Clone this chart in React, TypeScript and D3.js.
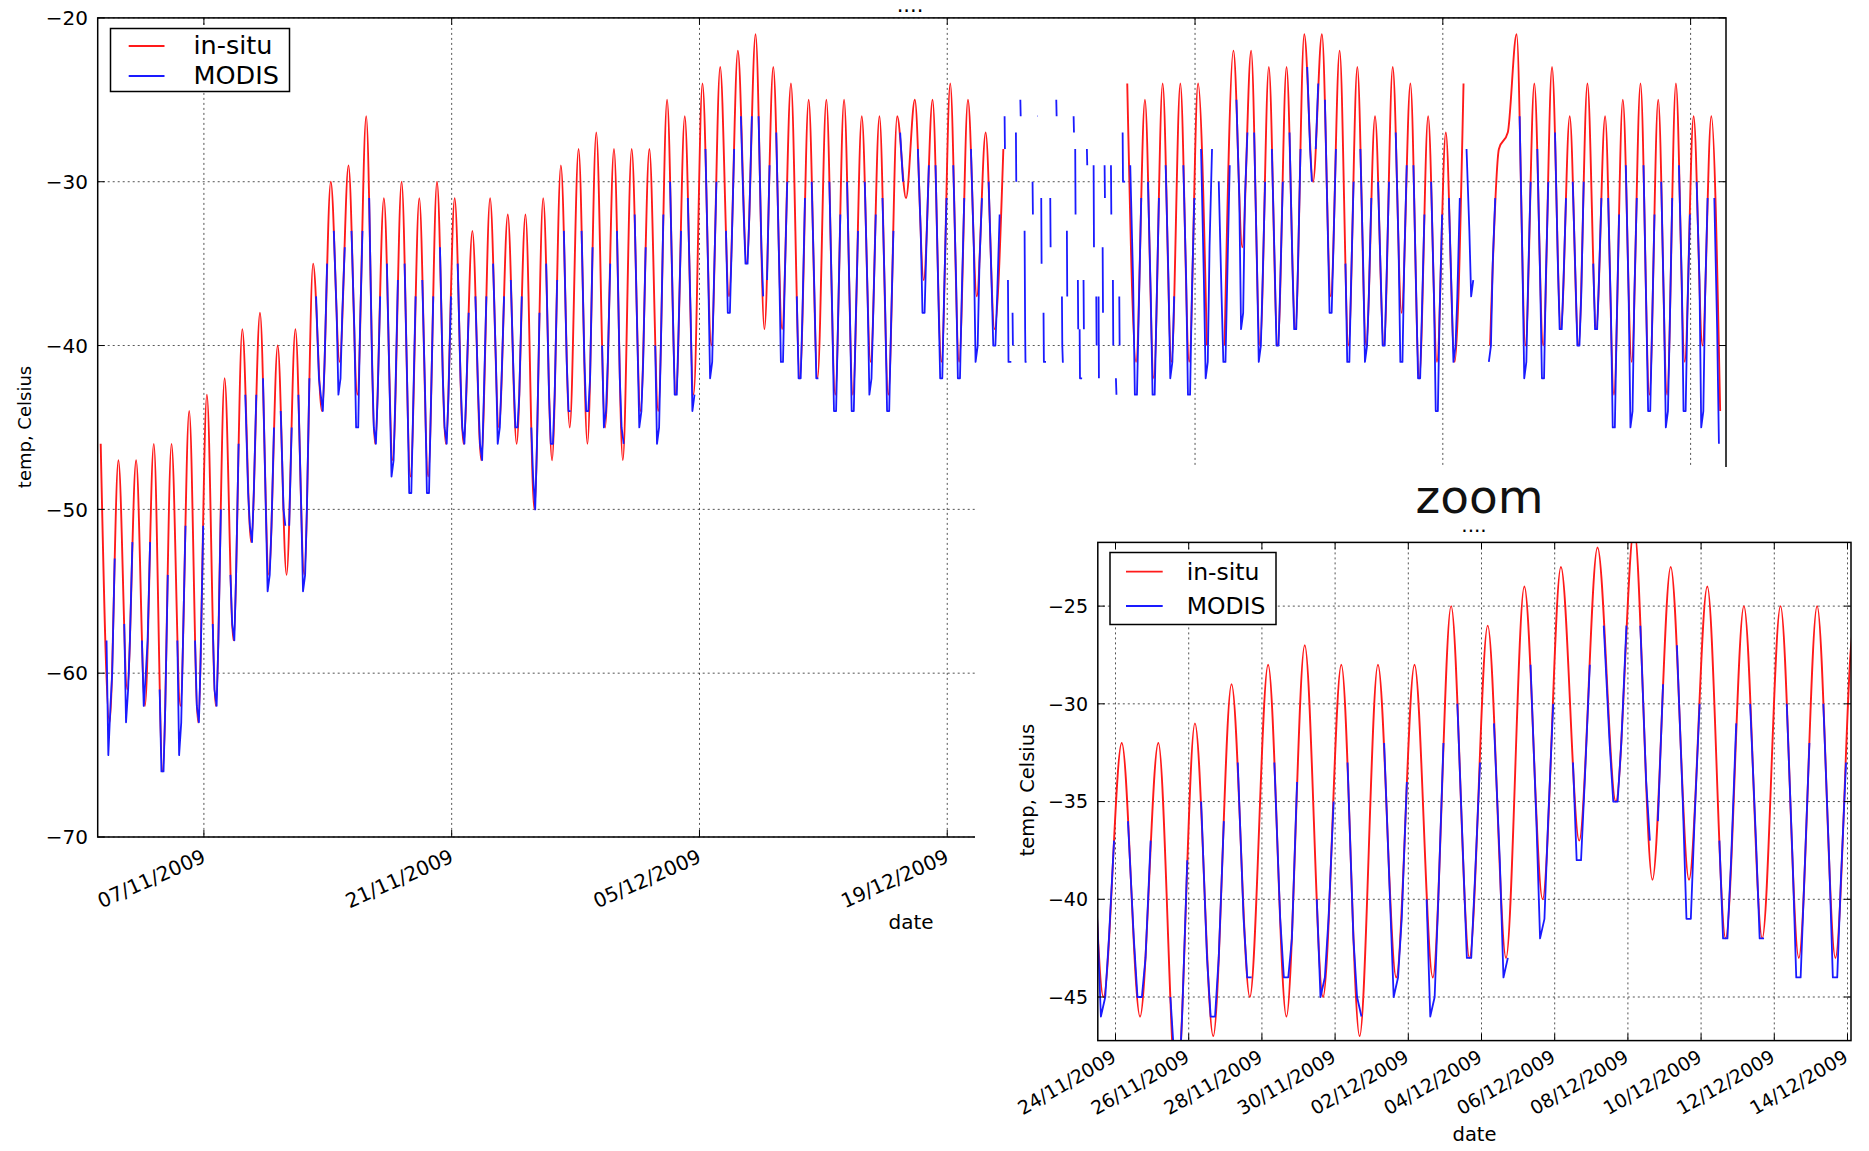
import React from "react";
import * as d3 from "d3";

type Pt = { t: number; v: number | null };

// time is counted in days from 01/11/2009 00:00 UTC
const START = Date.UTC(2009, 10, 1);
const DAY_MS = 86400000;
const at = (d: number) => new Date(START + d * DAY_MS);

// daily in-situ extremes: maximum near local noon, minimum near local midnight
const MAX_PHASE = 0.17;
const MIN_PHASE = 0.67;
const insituMax: (number | null)[] = [
  -46, -47, -47, -46, -46, -44, -43, -42, -39, -38,
  -40, -39, -35, -30, -29, -26, -31, -30, -31, -30,
  -31, -33, -31, -32, -32, -31, -29, -28, -27, -28,
  -28, -28, -25, -26, -24, -23, -22, -21, -23, -24,
  -25, -25, -25, -26, -26, -26, -25, -25, -24, -25,
  -27, -28, null, null, null, null, null, null, -24, -25,
  -24, -24, -24, null, -22, -22, -23, -23, -21, -21,
  -22, -23, -26, -23, -24, -26, -27, -24, null, -28,
  -21, -24, -23, -26, -24, -26, -25, -24, -25, -24,
  -26, -26,
];
const insituMin: (number | null)[] = [
  -63, -61, -62, -66, -62, -63, -62, -58, -52, -54,
  -54, -54, -44, -41, -43, -46, -47, -48, -48, -46,
  -46, -47, -45, -46, -50, -47, -45, -46, -45, -47,
  -44, -44, -43, -43, -40, -37, -35, -39, -39, -42,
  -42, -43, -43, -41, -43, -31, -36, -41, -41, -37,
  -39, null, null, null, null, null, null, null, -41, -42,
  -41, -41, -40, -40, -34, -40, -40, -39, -30, -37,
  -40, -40, -40, -38, -42, -41, -41, null, -40, -27,
  -40, -40, -39, -40, -39, -43, -41, -43, -43, -41,
  -40, -44,
];

// MODIS samples of each day, taken at these fractions of the day
const modisPhase = [0.34, 0.5, 0.6, 0.72, 0.82, 0.96];
const modisDaily: ((number | null)[] | null)[] = [
  [null, -58, -65, -62, -60, -53],
  [null, -57, -63, -61, -58, -52],
  [null, -58, -62, -60, -58, -52],
  [null, -61, -66, -66, -62, -54],
  [null, -58, -65, -63, -58, -51],
  [null, -58, -62, -63, -59, -51],
  [null, -57, -61, -62, -58, -50],
  [null, -54, -57, -58, -54, -46],
  [-43, -49, -51, -52, -49, -43],
  [-42, -50, -55, -54, -51, -45],
  [-44, -50, -51, null, -51, -45],
  [-43, -50, -55, -54, -50, -42],
  [-37, -42, -43, -44, -41, -35],
  [-33, -38, -43, -42, -38, -34],
  [-33, -39, -45, -45, -39, -33],
  [-31, -41, -45, -46, -43, -37],
  [-35, -43, -48, -47, -43, -36],
  [-35, -43, -49, -49, -44, -37],
  [-36, -43, -49, -49, -44, -37],
  [-34, -42, -45, -46, -43, -37],
  [-35, -42, -45, -46, -43, -38],
  [-37, -43, -46, -47, -43, -37],
  [-35, -41, -46, -45, -42, -37],
  [-36, -42, -45, -45, -43, -37],
  [null, -45, -48, -50, -46, -38],
  [-35, -43, -46, -46, -43, -36],
  [-33, -41, -44, -44, null, -34],
  [-33, -41, -44, -44, -42, -34],
  [null, -40, -45, -44, -41, -35],
  [-33, -42, -45, -46, null, -35],
  [-32, -40, -45, -44, -41, -34],
  [null, -40, -46, -45, -40, -32],
  [-30, -38, -43, -43, -39, -33],
  [-31, -38, -44, -43, null, -31],
  [-28, -36, -42, -41, -36, -30],
  [null, -33, -38, -38, -34, -28],
  [-26, -32, -35, -35, -32, -26],
  [-26, -34, -37, null, -36, -29],
  [-27, -35, -41, -41, -36, -30],
  [null, -37, -42, -42, -38, -31],
  [-30, -37, -42, -42, null, -31],
  [-30, -38, -44, -44, -39, -32],
  [-30, -38, -44, -44, -39, -33],
  [-30, -37, -43, -42, -38, -32],
  [-31, -38, -44, -44, -39, -33],
  [-27, -30, null, null, null, null],
  [-28, -33, -38, -38, -34, -29],
  [-29, -37, -42, -42, -37, -31],
  [-29, -36, -42, -42, -37, -31],
  [-28, -34, -41, -40, -35, -31],
  [-30, -36, -40, -40, -37, -32],
  null, null, null, null, null, null, null,
  [-29, -36, -43, -43, -38, -31],
  [-30, -37, -43, -43, -38, -31],
  [-29, -36, -42, -41, -37, null],
  [-29, -36, -43, -43, -37, -31],
  [-28, -36, -42, -41, -34, -28],
  [-30, -37, -41, -41, -36, -29],
  [-25, -31, -39, -38, -31, -27],
  [-27, -35, -41, -40, -36, -30],
  [-28, -35, -40, -40, -36, -30],
  [-27, -35, -39, -39, -35, -28],
  [-23, -28, -30, null, -28, -24],
  [-25, -33, -38, -38, -34, -28],
  [null, -35, -41, -41, -36, -30],
  [-28, -35, -41, -40, -37, -31],
  [-30, -36, -40, -40, -36, -30],
  [-27, -34, -41, -41, -35, -29],
  [-29, -37, -42, -42, -38, -32],
  [-30, -37, -44, -44, -38, -32],
  [-31, -37, -41, -40, -37, -31],
  [-28, -33, -37, -36, null, null],
  [null, null, -41, -40, -35, -31],
  null,
  [-26, -35, -42, -41, -36, -30],
  [-28, -36, -42, -42, -36, -30],
  [-27, -35, -39, -39, -36, -31],
  [-30, -36, -40, -40, -37, -30],
  [null, -35, -39, -39, -36, -31],
  [-31, -38, -45, -45, -39, -32],
  [-29, -37, -45, -44, -37, -31],
  [-29, -38, -44, -44, -39, -32],
  [-30, -38, -45, -44, -39, -31],
  [-29, -36, -44, -44, -38, -32],
  [-30, -36, -45, -44, -37, -31],
  [-31, -39, -46, null, null, null],
];

// isolated MODIS passes while the in-situ record is missing (days, temperature)
const modisGap: [number, number][][] = [
  [[51.24, -26], [51.26, -28]],
  [[51.43, -36], [51.46, -41], [51.62, -41]],
  [[51.69, -38], [51.71, -40]],
  [[51.88, -27], [51.9, -30]],
  [[52.13, -25], [52.15, -26]],
  [[52.37, -33], [52.4, -39], [52.42, -41], [52.48, -41]],
  [[52.82, -30], [52.84, -32]],
  [[53.1, -26], [53.12, -26]],
  [[53.31, -31], [53.33, -35]],
  [[53.44, -38], [53.46, -41], [53.58, -41]],
  [[53.82, -31], [53.84, -34]],
  [[54.16, -25], [54.18, -26]],
  [[54.48, -37], [54.5, -40], [54.53, -41], [54.58, -41]],
  [[54.76, -33], [54.78, -37]],
  [[55.14, -26], [55.16, -27]],
  [[55.23, -28], [55.25, -32]],
  [[55.38, -36], [55.4, -39]],
  [[55.48, -39], [55.5, -42], [55.62, -42]],
  [[55.7, -36], [55.72, -39]],
  [[55.89, -28], [55.91, -29]],
  [[56.27, -29], [56.29, -34]],
  [[56.42, -37], [56.44, -40]],
  [[56.55, -37], [56.57, -42]],
  [[56.78, -34], [56.8, -38]],
  [[56.89, -29], [56.91, -31]],
  [[57.25, -29], [57.27, -32]],
  [[57.36, -36], [57.38, -40]],
  [[57.53, -42], [57.56, -43]],
  [[57.72, -37], [57.74, -40]],
  [[57.91, -27], [57.93, -30], [58.05, -30]],
];

const seriesNames = ["in-situ", "MODIS"];
const seriesColors = ["#ff1a1a", "#1a1aff"];

const mainDateTicks = ["2009-11-07", "2009-11-21", "2009-12-05", "2009-12-19", "2010-01-02", "2010-01-16", "2010-01-30"];
const mainTempTicks = [-70, -60, -50, -40, -30, -20];
const insetDateTicks = [
  "2009-11-24", "2009-11-26", "2009-11-28", "2009-11-30", "2009-12-02", "2009-12-04",
  "2009-12-06", "2009-12-08", "2009-12-10", "2009-12-12", "2009-12-14",
];
const insetTempTicks = [-45, -40, -35, -30, -25];

const FONT = "'DejaVu Sans', 'Liberation Sans', sans-serif";
const fmtDate = d3.utcFormat("%d/%m/%Y");
const fmtTemp = (v: number) => String(v).replace("-", "\u2212");
const parseDay = (s: string) => new Date(s + "T00:00:00Z");

function insituPoints(): Pt[] {
  const pts: Pt[] = [];
  insituMax.forEach((mx, d) => {
    pts.push({ t: d + MAX_PHASE, v: mx });
    pts.push({ t: d + MIN_PHASE, v: insituMin[d] });
  });
  return pts;
}

function modisPoints(): Pt[] {
  const pts: Pt[] = [];
  modisDaily.forEach((row, d) => {
    if (!row) return;
    row.forEach((v, i) => pts.push({ t: d + modisPhase[i], v }));
    pts.push({ t: d + 0.99, v: null });
  });
  modisGap.forEach((stroke) => {
    stroke.forEach(([t, v]) => pts.push({ t, v }));
    pts.push({ t: stroke[stroke.length - 1][0], v: null });
  });
  return pts;
}

const INSITU = insituPoints();
const MODIS = modisPoints();

type PanelProps = {
  id: string;
  left: number; right: number; top: number; bottom: number;
  xDomain: [number, number];
  yDomain: [number, number];
  dateTicks: string[];
  tempTicks: number[];
  tickFont: number;
  yTickRight: number;
  xRot: number;
  xTickDx: number;
  xTickDy: number;
  xLabel: { x: number; y: number; size: number };
  yLabel: { x: number; y: number; size: number };
  title: { x: number; y: number; size: number };
  legend: { x: number; y: number; w: number; h: number; l0: number; l1: number; ly: [number, number]; tx: number; ty: [number, number]; size: number };
};

function Panel(p: PanelProps) {
  const x = d3.scaleUtc().domain([at(p.xDomain[0]), at(p.xDomain[1])]).range([p.left, p.right]);
  const y = d3.scaleLinear().domain(p.yDomain).range([p.bottom, p.top]);
  const smooth = d3
    .line<Pt>()
    .defined((d) => d.v !== null)
    .x((d) => x(at(d.t)))
    .y((d) => y(d.v as number))
    .curve(d3.curveMonotoneX);
  const straight = d3
    .line<Pt>()
    .defined((d) => d.v !== null)
    .x((d) => x(at(d.t)))
    .y((d) => y(d.v as number));
  const tickLen = 7;
  const grid = { stroke: "#000", strokeWidth: 0.9, strokeDasharray: "2 3", opacity: 0.75 };
  const lg = p.legend;
  return (
    <g>
      <defs>
        <clipPath id={p.id + "-clip"}>
          <rect x={p.left} y={p.top} width={p.right - p.left} height={p.bottom - p.top} />
        </clipPath>
      </defs>
      {p.tempTicks.map((v) => (
        <line key={"gy" + v} x1={p.left} x2={p.right} y1={y(v)} y2={y(v)} {...grid} />
      ))}
      {p.dateTicks.map((s) => (
        <line key={"gx" + s} x1={x(parseDay(s))} x2={x(parseDay(s))} y1={p.top} y2={p.bottom} {...grid} />
      ))}
      <g clipPath={`url(#${p.id}-clip)`}>
        <path d={smooth(INSITU) ?? ""} fill="none" stroke={seriesColors[0]} strokeWidth={1.9} strokeLinejoin="round" />
        <path d={straight(MODIS) ?? ""} fill="none" stroke={seriesColors[1]} strokeWidth={1.8} strokeLinejoin="round" />
      </g>
      <rect x={p.left} y={p.top} width={p.right - p.left} height={p.bottom - p.top} fill="none" stroke="#000" strokeWidth={1.5} />
      {p.tempTicks.map((v) => (
        <g key={"ty" + v}>
          <line x1={p.left} x2={p.left + tickLen} y1={y(v)} y2={y(v)} stroke="#000" strokeWidth={1} />
          <line x1={p.right - tickLen} x2={p.right} y1={y(v)} y2={y(v)} stroke="#000" strokeWidth={1} />
          <text x={p.yTickRight} y={y(v)} dy="0.36em" textAnchor="end" fontSize={p.tickFont} fontFamily={FONT} fill="#000">
            {fmtTemp(v)}
          </text>
        </g>
      ))}
      {p.dateTicks.map((s) => {
        const tx = x(parseDay(s));
        const ax = tx + p.xTickDx;
        const ay = p.bottom + p.xTickDy;
        return (
          <g key={"tx" + s}>
            <line x1={tx} x2={tx} y1={p.bottom - tickLen} y2={p.bottom} stroke="#000" strokeWidth={1} />
            <line x1={tx} x2={tx} y1={p.top} y2={p.top + tickLen} stroke="#000" strokeWidth={1} />
            <text
              x={ax}
              y={ay}
              dy="0.74em"
              textAnchor="end"
              transform={`rotate(${-p.xRot},${ax},${ay})`}
              fontSize={p.tickFont}
              fontFamily={FONT}
              fill="#000"
            >
              {fmtDate(parseDay(s))}
            </text>
          </g>
        );
      })}
      <text x={p.xLabel.x} y={p.xLabel.y} textAnchor="middle" fontSize={p.xLabel.size} fontFamily={FONT} fill="#000">
        date
      </text>
      <text
        x={p.yLabel.x}
        y={p.yLabel.y}
        textAnchor="middle"
        dominantBaseline="central"
        transform={`rotate(-90,${p.yLabel.x},${p.yLabel.y})`}
        fontSize={p.yLabel.size}
        fontFamily={FONT}
        fill="#000"
      >
        temp, Celsius
      </text>
      <text x={p.title.x} y={p.title.y} textAnchor="middle" fontSize={p.title.size} fontFamily={FONT} fill="#000">
        ....
      </text>
      <rect x={lg.x} y={lg.y} width={lg.w} height={lg.h} fill="#fff" stroke="#000" strokeWidth={1.5} />
      {seriesNames.map((name, i) => (
        <g key={name}>
          <line x1={lg.l0} x2={lg.l1} y1={lg.ly[i]} y2={lg.ly[i]} stroke={seriesColors[i]} strokeWidth={1.8} />
          <text x={lg.tx} y={lg.ty[i]} fontSize={lg.size} fontFamily={FONT} fill="#000">
            {name}
          </text>
        </g>
      ))}
    </g>
  );
}

export default function App() {
  return (
    <svg
      width={1869}
      height={1151}
      viewBox="0 0 1869 1151"
      style={{ display: "block", position: "absolute", left: 0, top: 0, background: "#fff" }}
    >
      <rect width={1869} height={1151} fill="#fff" />
      <Panel
        id="main"
        left={97.7}
        right={1726}
        top={17.9}
        bottom={837}
        xDomain={[0, 92]}
        yDomain={[-70, -20]}
        dateTicks={mainDateTicks}
        tempTicks={mainTempTicks}
        tickFont={20}
        yTickRight={88}
        xRot={24}
        xTickDx={-3}
        xTickDy={11}
        xLabel={{ x: 911, y: 929, size: 20 }}
        yLabel={{ x: 24, y: 427, size: 18 }}
        title={{ x: 910, y: 12, size: 21 }}
        legend={{ x: 110.5, y: 28.5, w: 179, h: 63, l0: 128.7, l1: 164.5, ly: [46, 76], tx: 193.5, ty: [53.5, 83.5], size: 25.5 }}
      />
      {/* the zoomed view sits on a white panel over the lower right corner */}
      <rect x={975} y={467} width={894} height={684} fill="#fff" />
      <text x={1479.5} y={513} textAnchor="middle" fontSize={47} fontFamily={FONT} fill="#111">
        zoom
      </text>
      <Panel
        id="inset"
        left={1097.8}
        right={1851}
        top={542.4}
        bottom={1040.6}
        xDomain={[22.516, 43.096]}
        yDomain={[-47.23, -21.74]}
        dateTicks={insetDateTicks}
        tempTicks={insetTempTicks}
        tickFont={19}
        yTickRight={1088}
        xRot={30}
        xTickDx={-5}
        xTickDy={8}
        xLabel={{ x: 1474.5, y: 1141, size: 19.5 }}
        yLabel={{ x: 1027.5, y: 790, size: 19.5 }}
        title={{ x: 1474, y: 532, size: 20 }}
        legend={{ x: 1110, y: 552.5, w: 166, h: 72, l0: 1126, l1: 1162.7, ly: [571.7, 606], tx: 1186.7, ty: [580, 613.5], size: 23.5 }}
      />
    </svg>
  );
}
